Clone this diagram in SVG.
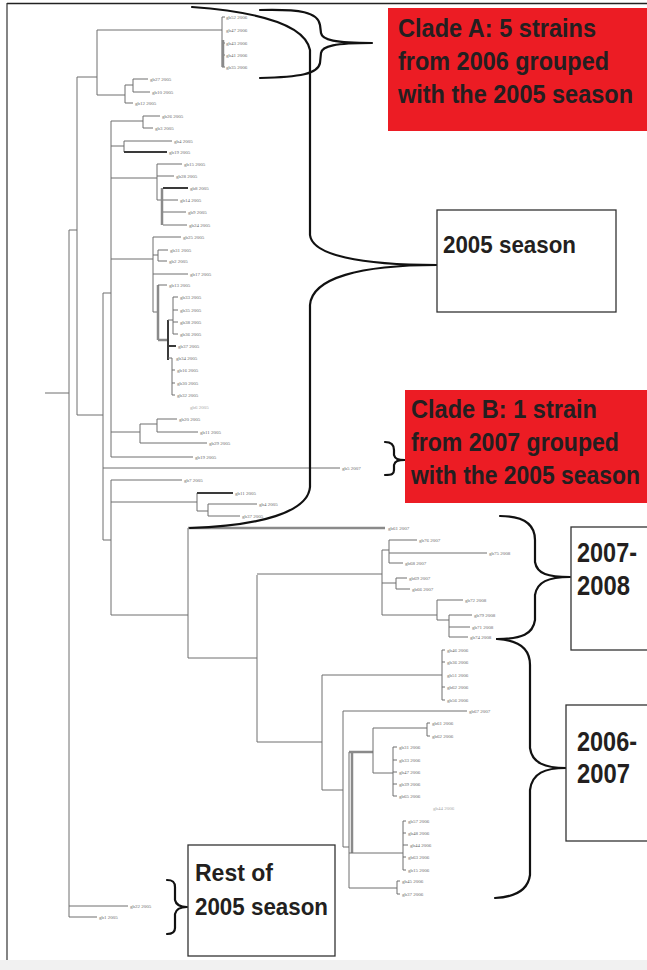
<svg xmlns="http://www.w3.org/2000/svg" width="647" height="970" viewBox="0 0 647 970">
  <style>
    .br { fill: none; stroke: #6e6e6e; stroke-width: 1; }
    .thk { fill: none; stroke: #3a3a3a; stroke-width: 2; }
    .gthk { fill: none; stroke: #8a8a8a; stroke-width: 2.5; }
    .lf { font-family: "Liberation Serif", "DejaVu Serif", serif; font-size: 5px; fill: #6a6a6a; }
    .faint { fill: #a8a8a8; }
    .brace { fill: none; stroke: #111; stroke-width: 2.2; stroke-linecap: round; stroke-linejoin: round; }
    .box { fill: #fff; stroke: #333; stroke-width: 1.3; }
    .red { fill: #ec1c24; }
    .lbl { font-family: "Liberation Sans", "DejaVu Sans", sans-serif; font-weight: bold; fill: #231f20; }
  </style>

  <rect x="0" y="0" width="647" height="970" fill="#fff"/>
  <!-- page frame -->
  <g id="frame">
    <rect x="0" y="960" width="647" height="10" fill="#f1f1f1"/>
    <line x1="7" y1="3.5" x2="647" y2="3.5" stroke="#222" stroke-width="1.6"/>
    <line x1="7" y1="3" x2="7" y2="960" stroke="#333" stroke-width="1.2"/>
  </g>

  <!-- phylogenetic tree: branches -->
  <g id="tree">
    <!-- root and backbone -->
    <path class="br" d="M45,393 H69 M69,230 V917 M69,230 H77 M69,906 H128 M69,917 H97"/>
    <!-- upper clade -->
    <path class="br" d="M77,77 V415 M77,77 H97 M97,30 V95 M97,30 H222 M222,17 V67 M222,17 H225 M222,43 H225 M222,55 H225 M222,67 H225"/>
    <path class="gthk" d="M223,40 V67"/>
    <path class="br" d="M97,95 H125 M125,85 V103 M125,85 H133 M133,79 V92 M133,79 H148 M133,92 H150 M125,103 H133"/>
    <!-- 2005 season group -->
    <path class="br" d="M77,415 H103 M103,293 V540 M103,293 H111 M111,121 V457 M103,468 H340"/>
    <path class="br" d="M111,121 H143 M143,116 V128 M143,116 H160 M143,128 H153"/>
    <path class="br" d="M111,146 H124 M124,141 V152 M124,141 H172"/>
    <path class="thk" d="M124,152 H167"/>
    <path class="br" d="M111,178 H157 M157,164 V200 M157,164 H182 M157,176 H174 M157,200 H161 M163,200 H178 M163,212 H186 M163,225 H187"/>
    <path class="gthk" d="M162,188 V225"/>
    <path class="thk" d="M163,188 H188"/>
    <path class="br" d="M111,259 H153 M153,237 V312 M153,237 H181 M153,255 H158 M158,250 V261 M158,250 H168 M158,261 H167 M153,274 H188 M153,312 H158"/>
    <path class="gthk" d="M158,285 V340 M158,340 H168"/>
    <path class="br" d="M158,285 H167"/>
    <path class="thk" d="M168,320 V360 M168,346 H176"/>
    <path class="br" d="M168,320 H173 M173,297 V334 M173,297 H178 M173,310 H178 M173,322 H178 M173,334 H178 M168,358 H172 M172,358 V395 M172,370 H175 M172,383 H175 M172,395 H175"/>
    <path class="br" d="M111,432 H140 M140,424 V443 M140,424 H157 M157,419 V432 M157,419 H177 M157,432 H198 M140,443 H207 M111,457 H193"/>
    <!-- lower 2005 group -->
    <path class="br" d="M103,540 H111 M111,480 V615 M111,480 H182 M111,502 H197 M197,493 V511 M197,511 H208 M208,504 V516 M208,504 H257 M208,516 H240"/>
    <path class="thk" d="M197,493 H233"/>
    <path class="br" d="M111,615 H188 M188,528 V658 M188,658 H257"/>
    <path class="gthk" d="M188,528 H385"/>
    <!-- 2007-2008 cluster -->
    <path class="br" d="M257,575 V742 M257,574 H382 M382,550 V615 M382,550 H389 M389,540 V563 M389,540 H417 M389,553 H487 M389,563 H403 M382,583 H396 M396,578 V589 M396,578 H407 M396,589 H410 M382,615 H437 M437,600 V620 M437,600 H463 M437,620 H449 M449,615 V637 M449,615 H472 M449,627 H470 M449,637 H468"/>
    <!-- 2006-2007 cluster -->
    <path class="br" d="M257,742 H322 M322,675 V790 M322,675 H442 M442,650 V700 M442,650 H445 M442,662 H445 M442,687 H445 M442,700 H445 M322,790 H343 M343,711 V847 M343,711 H467 M343,847 H349 M349,752 V888"/>
    <path class="gthk" d="M352,752 V853 M349,752 H373"/>
    <path class="br" d="M373,728 V773 M373,728 H427 M427,723 V736 M427,723 H430 M427,736 H430 M373,773 H393 M393,747 V796 M393,747 H397 M393,760 H397 M393,772 H397 M393,784 H397 M393,796 H397"/>
    <path class="br" d="M349,853 H403 M403,821 V870 M403,821 H406 M403,833 H406 M403,845 H408 M403,857 H406 M403,870 H406 M349,888 H397 M397,881 V894 M397,881 H400 M397,894 H400"/>
  </g>

  <!-- leaf names -->
  <g id="leaves">
    <text class="lf" x="226" y="19">gb52 2006</text>
    <text class="lf" x="226" y="32">gb47 2006</text>
    <text class="lf" x="226" y="45">gb43 2006</text>
    <text class="lf" x="226" y="57">gb41 2006</text>
    <text class="lf" x="226" y="69">gb35 2006</text>
    <text class="lf" x="150" y="81">gb27 2005</text>
    <text class="lf" x="152" y="94">gb10 2005</text>
    <text class="lf" x="135" y="105">gb12 2005</text>
    <text class="lf" x="162" y="118">gb26 2005</text>
    <text class="lf" x="155" y="130">gb3 2005</text>
    <text class="lf" x="174" y="143">gb4 2005</text>
    <text class="lf" x="169" y="154">gb19 2005</text>
    <text class="lf" x="184" y="166">gb15 2005</text>
    <text class="lf" x="176" y="178">gb28 2005</text>
    <text class="lf" x="190" y="190">gb8 2005</text>
    <text class="lf" x="180" y="202">gb14 2005</text>
    <text class="lf" x="188" y="214">gb9 2005</text>
    <text class="lf" x="189" y="227">gb24 2005</text>
    <text class="lf" x="183" y="239">gb25 2005</text>
    <text class="lf" x="170" y="252">gb31 2005</text>
    <text class="lf" x="169" y="263">gb2 2005</text>
    <text class="lf" x="190" y="276">gb17 2005</text>
    <text class="lf" x="169" y="287">gb13 2005</text>
    <text class="lf" x="180" y="299">gb33 2005</text>
    <text class="lf" x="180" y="312">gb35 2005</text>
    <text class="lf" x="180" y="324">gb38 2005</text>
    <text class="lf" x="180" y="336">gb36 2005</text>
    <text class="lf" x="178" y="348">gb37 2005</text>
    <text class="lf" x="176" y="360">gb34 2005</text>
    <text class="lf" x="177" y="372">gb16 2005</text>
    <text class="lf" x="177" y="385">gb30 2005</text>
    <text class="lf" x="177" y="397">gb32 2005</text>
    <text class="lf faint" x="190" y="409">gb6 2005</text>
    <text class="lf" x="179" y="421">gb20 2005</text>
    <text class="lf" x="200" y="434">gb11 2005</text>
    <text class="lf" x="209" y="445">gb29 2005</text>
    <text class="lf" x="195" y="459">gb19 2005</text>
    <text class="lf" x="342" y="470">gb5 2007</text>
    <text class="lf" x="184" y="482">gb7 2005</text>
    <text class="lf" x="235" y="495">gb11 2005</text>
    <text class="lf" x="259" y="506">gb4 2005</text>
    <text class="lf" x="242" y="518">gb37 2005</text>
    <text class="lf" x="388" y="530">gb61 2007</text>
    <text class="lf" x="419" y="542">gb76 2007</text>
    <text class="lf" x="489" y="555">gb75 2008</text>
    <text class="lf" x="405" y="565">gb68 2007</text>
    <text class="lf" x="409" y="580">gb69 2007</text>
    <text class="lf" x="412" y="591">gb66 2007</text>
    <text class="lf" x="465" y="602">gb72 2008</text>
    <text class="lf" x="474" y="617">gb79 2008</text>
    <text class="lf" x="472" y="629">gb71 2008</text>
    <text class="lf" x="470" y="639">gb74 2008</text>
    <text class="lf" x="447" y="652">gb46 2006</text>
    <text class="lf" x="447" y="664">gb36 2006</text>
    <text class="lf" x="447" y="677">gb51 2006</text>
    <text class="lf" x="447" y="689">gb62 2006</text>
    <text class="lf" x="447" y="702">gb56 2006</text>
    <text class="lf" x="469" y="713">gb67 2007</text>
    <text class="lf" x="432" y="725">gb61 2006</text>
    <text class="lf" x="432" y="738">gb62 2006</text>
    <text class="lf" x="399" y="749">gb31 2006</text>
    <text class="lf" x="399" y="762">gb33 2006</text>
    <text class="lf" x="399" y="774">gb47 2006</text>
    <text class="lf" x="399" y="786">gb39 2006</text>
    <text class="lf" x="399" y="798">gb65 2006</text>
    <text class="lf faint" x="433" y="810">gb44 2006</text>
    <text class="lf" x="408" y="823">gb57 2006</text>
    <text class="lf" x="408" y="835">gb48 2006</text>
    <text class="lf" x="410" y="847">gb44 2006</text>
    <text class="lf" x="408" y="859">gb63 2006</text>
    <text class="lf" x="408" y="872">gb15 2006</text>
    <text class="lf" x="402" y="883">gb45 2006</text>
    <text class="lf" x="402" y="896">gb37 2006</text>
    <text class="lf" x="130" y="908">gb22 2005</text>
    <text class="lf" x="99" y="919">gb1 2005</text>
  </g>

  <!-- curly braces -->
  <g id="connectors">
    <path class="brace" d="M260,10 C300,9 318,12 320,25 L321,33 C322,40 335,43 372,43 C335,43 322,46 321,53 L320,63 C318,74 300,77 260,78"/>
    <path class="brace" d="M192,7 C260,12 305,25 310,50 L310,235 C312,255 360,265 437,265 C360,265 312,278 310,305 L310,487 C308,512 260,526 190,528"/>
    <path class="brace" d="M385,442 C392,442 394,445 394,450 L394,455 C395,459 398,460 405,460 C398,460 395,461 394,465 L394,470 C394,474 392,475 385,475"/>
    <path class="brace" d="M500,516 C525,516 535,525 535,540 L535,562 C537,574 548,577 570,577 C548,577 537,582 535,595 L535,620 C533,634 522,639 497,639"/>
    <path class="brace" d="M497,639 C518,640 530,648 530,665 L530,748 C532,763 545,768 566,768 C545,768 532,773 530,790 L530,875 C528,890 515,897 495,898"/>
    <path class="brace" d="M167,880 C173,880 175,882 175,887 L175,900 C176,905 180,907 187,907 C180,907 176,909 175,914 L175,928 C175,932 173,934 167,934"/>
  </g>

  <!-- annotation boxes -->
  <g id="cladeA">
    <rect class="red" x="388" y="8" width="259" height="123"/>
    <text class="lbl" x="398" y="37" font-size="25" textLength="198" lengthAdjust="spacingAndGlyphs">Clade A: 5 strains</text>
    <text class="lbl" x="398" y="70" font-size="25" textLength="211" lengthAdjust="spacingAndGlyphs">from 2006 grouped</text>
    <text class="lbl" x="398" y="103" font-size="25" textLength="235" lengthAdjust="spacingAndGlyphs">with the 2005 season</text>
  </g>
  <g id="season2005">
    <rect class="box" x="437" y="210" width="179" height="102"/>
    <text class="lbl" x="443" y="253" font-size="24" textLength="133" lengthAdjust="spacingAndGlyphs">2005 season</text>
  </g>
  <g id="cladeB">
    <rect class="red" x="405" y="390" width="242" height="113"/>
    <text class="lbl" x="411" y="418" font-size="25" textLength="186" lengthAdjust="spacingAndGlyphs">Clade B: 1 strain</text>
    <text class="lbl" x="411" y="451" font-size="25" textLength="208" lengthAdjust="spacingAndGlyphs">from 2007 grouped</text>
    <text class="lbl" x="411" y="484" font-size="25" textLength="229" lengthAdjust="spacingAndGlyphs">with the 2005 season</text>
  </g>
  <g id="season2007_2008">
    <rect class="box" x="571" y="527" width="80" height="123"/>
    <text class="lbl" x="577" y="562" font-size="28" textLength="60" lengthAdjust="spacingAndGlyphs">2007-</text>
    <text class="lbl" x="577" y="595" font-size="28" textLength="53" lengthAdjust="spacingAndGlyphs">2008</text>
  </g>
  <g id="season2006_2007">
    <rect class="box" x="566" y="705" width="85" height="136"/>
    <text class="lbl" x="577" y="751" font-size="28" textLength="60" lengthAdjust="spacingAndGlyphs">2006-</text>
    <text class="lbl" x="577" y="783" font-size="28" textLength="53" lengthAdjust="spacingAndGlyphs">2007</text>
  </g>
  <g id="rest2005">
    <rect class="box" x="188" y="845" width="147" height="111"/>
    <text class="lbl" x="195" y="881" font-size="24" textLength="78" lengthAdjust="spacingAndGlyphs">Rest of</text>
    <text class="lbl" x="195" y="915" font-size="24" textLength="133" lengthAdjust="spacingAndGlyphs">2005 season</text>
  </g>
</svg>
